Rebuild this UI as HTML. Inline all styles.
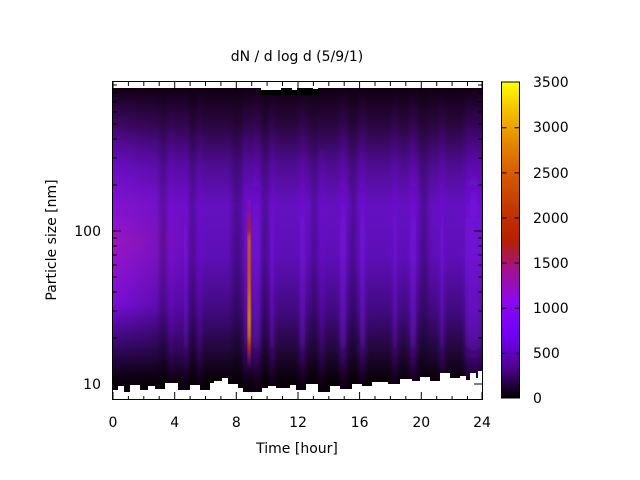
<!DOCTYPE html>
<html><head><meta charset="utf-8"><style>
html,body{margin:0;padding:0;background:#fff;}
svg{display:block;font-family:"DejaVu Sans","Liberation Sans",sans-serif;}
</style></head><body>
<svg width="640" height="480" viewBox="0 0 640 480" xmlns="http://www.w3.org/2000/svg">
<defs>
<filter id="bl" x="-0.1" y="0" width="1.2" height="1"><feGaussianBlur stdDeviation="2.5 0"/></filter>
<filter id="bl2" x="-0.1" y="0" width="1.2" height="1"><feGaussianBlur stdDeviation="1 3"/></filter>
<linearGradient id="base" x1="0" y1="88" x2="0" y2="395" gradientUnits="userSpaceOnUse">
<stop offset="0" stop-color="#120014"/>
<stop offset="0.12" stop-color="#2a063e"/>
<stop offset="0.25" stop-color="#4e0c90"/>
<stop offset="0.38" stop-color="#6410c0"/>
<stop offset="0.55" stop-color="#5e0eb6"/>
<stop offset="0.72" stop-color="#420a82"/>
<stop offset="0.84" stop-color="#240840"/>
<stop offset="0.95" stop-color="#0a0008"/>
<stop offset="1" stop-color="#050004"/>
</linearGradient>
<linearGradient id="left" x1="113" y1="0" x2="200" y2="0" gradientUnits="userSpaceOnUse">
<stop offset="0" stop-color="#fff" stop-opacity="1"/>
<stop offset="1" stop-color="#fff" stop-opacity="0"/>
</linearGradient>
<mask id="lm"><rect x="113" y="80" width="100" height="320" fill="url(#left)"/></mask>
<linearGradient id="leftv" x1="0" y1="88" x2="0" y2="395" gradientUnits="userSpaceOnUse">
<stop offset="0" stop-color="#8010e0" stop-opacity="0"/>
<stop offset="0.25" stop-color="#8010f0" stop-opacity="0.5"/>
<stop offset="0.5" stop-color="#a018c0" stop-opacity="0.9"/>
<stop offset="0.7" stop-color="#8810f0" stop-opacity="0.8"/>
<stop offset="0.85" stop-color="#5008a0" stop-opacity="0.4"/>
<stop offset="1" stop-color="#100010" stop-opacity="0"/>
</linearGradient>
<linearGradient id="spike" x1="0" y1="190" x2="0" y2="370" gradientUnits="userSpaceOnUse">
<stop offset="0" stop-color="#8010f0" stop-opacity="0"/>
<stop offset="0.2" stop-color="#b02020"/>
<stop offset="0.5" stop-color="#c83000"/>
<stop offset="0.72" stop-color="#e08800"/>
<stop offset="0.88" stop-color="#c03010"/>
<stop offset="1" stop-color="#8010f0" stop-opacity="0"/>
</linearGradient>
<linearGradient id="str" x1="0" y1="88" x2="0" y2="395" gradientUnits="userSpaceOnUse">
<stop offset="0" stop-color="#8010f0" stop-opacity="0"/>
<stop offset="0.35" stop-color="#8010f0" stop-opacity="0.4"/>
<stop offset="0.8" stop-color="#8010f0" stop-opacity="0.55"/>
<stop offset="1" stop-color="#8010f0" stop-opacity="0"/>
</linearGradient>
<linearGradient id="drk" x1="0" y1="88" x2="0" y2="395" gradientUnits="userSpaceOnUse">
<stop offset="0" stop-color="#000" stop-opacity="0.1"/>
<stop offset="0.5" stop-color="#000" stop-opacity="0.25"/>
<stop offset="1" stop-color="#000" stop-opacity="0.2"/>
</linearGradient>
<linearGradient id="cb" x1="0" y1="398" x2="0" y2="82" gradientUnits="userSpaceOnUse">
<stop offset="0" stop-color="#000000"/>
<stop offset="0.1" stop-color="#510096"/>
<stop offset="0.2" stop-color="#7200f2"/>
<stop offset="0.3" stop-color="#8c07f2"/>
<stop offset="0.4" stop-color="#a11096"/>
<stop offset="0.5" stop-color="#b52000"/>
<stop offset="0.6" stop-color="#c43700"/>
<stop offset="0.7" stop-color="#d65700"/>
<stop offset="0.8" stop-color="#e48300"/>
<stop offset="0.9" stop-color="#f2ba00"/>
<stop offset="1" stop-color="#ffff00"/>
</linearGradient>
<clipPath id="pc"><rect x="113" y="82" width="369" height="318"/></clipPath>
</defs>
<g clip-path="url(#pc)">
<rect x="113" y="88" width="369" height="308" fill="url(#base)"/>
<rect x="113" y="88" width="100" height="308" fill="url(#leftv)" mask="url(#lm)"/>
<g fill="url(#str)" filter="url(#bl)">
<rect x="170" y="88" width="3" height="308"/>
<rect x="184" y="88" width="4" height="308"/>
<rect x="178" y="88" width="2" height="308"/>
<rect x="198" y="88" width="3" height="308"/>
<rect x="244" y="88" width="4" height="308"/>
<rect x="252" y="88" width="5" height="308"/>
<rect x="258" y="88" width="3" height="308"/>
<rect x="270" y="88" width="4" height="308"/>
<rect x="300" y="88" width="5" height="308"/>
<rect x="320" y="150" width="3" height="240"/>
<rect x="340" y="88" width="6" height="308"/>
<rect x="360" y="88" width="5" height="308"/>
<rect x="393" y="88" width="4" height="308"/>
<rect x="410" y="88" width="6" height="308"/>
<rect x="440" y="88" width="4" height="308"/>
<rect x="465" y="88" width="17" height="308"/>
</g>
<g fill="url(#drk)" filter="url(#bl)">
<rect x="160" y="88" width="6" height="308"/>
<rect x="190" y="88" width="5" height="308"/>
<rect x="232" y="88" width="10" height="308"/>
<rect x="262" y="88" width="6" height="308"/>
<rect x="312" y="88" width="5" height="308"/>
<rect x="350" y="88" width="6" height="308"/>
<rect x="420" y="88" width="8" height="308"/>
</g>
<g filter="url(#bl2)">
<rect x="247.5" y="190" width="3.5" height="180" fill="url(#spike)"/>
<rect x="248.3" y="235" width="1.6" height="105" fill="#f0a000" opacity="0.7"/>
</g>
</g>
<!-- top black/white edge -->
<rect x="260" y="88" width="60" height="7" fill="#000"/>
<rect x="261" y="86" width="20" height="4" fill="#fff"/>
<rect x="292" y="86" width="5" height="4" fill="#fff"/>
<rect x="313" y="86" width="5" height="3" fill="#fff"/>
<!-- bottom white edge -->
<polygon fill="#fff" points="113,400 113,390 118,390 118,386 124,386 124,392 130,392 130,385 140,385 140,390 148,390 148,386 155,386 155,389 165,389 165,383 178,383 178,390 190,390 190,385 200,385 200,390 210,390 210,383 214,383 214,381 222,381 222,378 228,378 228,384 238,384 238,388 243,388 243,392 262,392 262,388 268,388 268,386 276,386 276,388 290,388 290,385 296,385 296,390 306,390 306,384 318,384 318,392 330,392 330,386 340,386 340,389 352,389 352,384 362,384 362,386 372,386 372,382 388,382 388,384 400,384 400,379 412,379 412,381 420,381 420,377 430,377 430,381 440,381 440,373 450,373 450,378 460,378 460,376 466,376 466,380 470,380 470,373 476,373 476,378 478,378 478,371 482,371 482,400"/>
<!-- frame -->
<rect x="112.5" y="81.5" width="370" height="318" fill="none" stroke="#000" stroke-width="1"/>
<g stroke="#000" stroke-width="1">
<path d="M113,400v-8M128.4,400v-4M143.8,400v-4M159.2,400v-4M174.7,400v-8M190.1,400v-4M205.5,400v-4M220.9,400v-4M236.3,400v-8M251.7,400v-4M267.1,400v-4M282.5,400v-4M298,400v-8M313.4,400v-4M328.8,400v-4M344.2,400v-4M359.6,400v-8M375,400v-4M390.4,400v-4M405.8,400v-4M421.3,400v-8M436.7,400v-4M452.1,400v-4M467.5,400v-4M482,400v-8"/>
<path d="M113,82v8M174.7,82v8M236.3,82v8M298,82v8M359.6,82v8M421.3,82v8M482,82v8M128.4,82v4M143.8,82v4M159.2,82v4M190.1,82v4M205.5,82v4M220.9,82v4M251.7,82v4M267.1,82v4M282.5,82v4M313.4,82v4M328.8,82v4M344.2,82v4M375,82v4M390.4,82v4M405.8,82v4M436.7,82v4M452.1,82v4M467.5,82v4"/>
<path d="M113,384h8M113,231h8M482,384h-8M482,231h-8"/>
<path d="M113,338h4M113,311h4M113,292h4M113,277h4M113,265h4M113,255h4M113,246h4M113,238h4M113,185h4M113,158h4M113,139h4M113,124h4M113,112h4M113,102h4M113,93h4M113,85h4"/>
<path d="M482,338h-4M482,311h-4M482,292h-4M482,277h-4M482,265h-4M482,255h-4M482,246h-4M482,238h-4M482,185h-4M482,158h-4M482,139h-4M482,124h-4M482,112h-4M482,102h-4M482,93h-4M482,85h-4"/>
</g>
<!-- colorbar -->
<rect x="501.5" y="82" width="18" height="316" fill="url(#cb)" stroke="#000" stroke-width="1"/>
<g stroke="#000" stroke-width="1">
<path d="M501.5,353.4h5M501.5,308.3h5M501.5,263.1h5M501.5,218h5M501.5,172.9h5M501.5,127.7h5M519.5,353.4h-5M519.5,308.3h-5M519.5,263.1h-5M519.5,218h-5M519.5,172.9h-5M519.5,127.7h-5"/>
</g>
<g font-size="14" fill="#000">
<text x="533" y="403">0</text>
<text x="533" y="358">500</text>
<text x="533" y="313">1000</text>
<text x="533" y="268">1500</text>
<text x="533" y="223">2000</text>
<text x="533" y="178">2500</text>
<text x="533" y="132">3000</text>
<text x="533" y="87">3500</text>
</g>
<g font-size="14" fill="#000" text-anchor="middle">
<text x="113" y="427">0</text>
<text x="174.7" y="427">4</text>
<text x="236.3" y="427">8</text>
<text x="298" y="427">12</text>
<text x="359.6" y="427">16</text>
<text x="421.3" y="427">20</text>
<text x="482" y="427">24</text>
<text x="297" y="453">Time [hour]</text>
<text x="297" y="61">dN / d log d (5/9/1)</text>
</g>
<g font-size="14" fill="#000" text-anchor="end">
<text x="101" y="389">10</text>
<text x="101" y="236">100</text>
</g>
<text x="0" y="0" font-size="14" text-anchor="middle" transform="translate(56,240) rotate(-90)">Particle size [nm]</text>
</svg>
</body></html>
